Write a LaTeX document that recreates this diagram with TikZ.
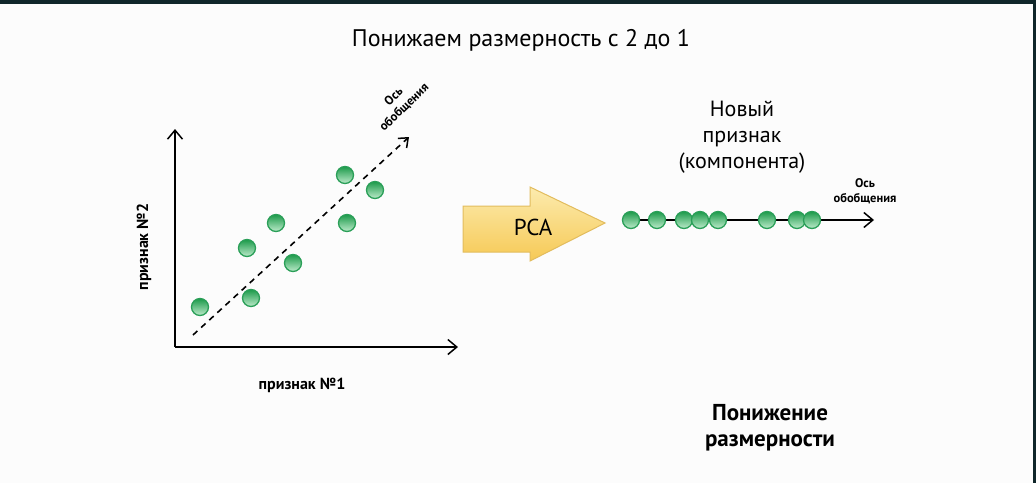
\documentclass[tikz,border=0pt]{standalone}
\usepackage{fontspec}
\setmainfont{PT Sans}
\usetikzlibrary{arrows.meta}
\definecolor{frame}{HTML}{10262A}
\definecolor{ptop}{HTML}{1C9A4A}
\definecolor{pbot}{HTML}{BDEBCB}
\definecolor{pedge}{HTML}{2A9F58}
\definecolor{ytop}{HTML}{FCEBAE}
\definecolor{ybot}{HTML}{F6C955}
\definecolor{yedge}{HTML}{E2BC5E}
\tikzset{
  pt/.style={circle, minimum size=17pt, inner sep=0pt, draw=pedge, line width=1.3pt, top color=ptop, bottom color=pbot},
  axis/.style={line width=1.5pt, -{Straight Barb[length=9pt,width=15pt,line width=1.5pt]}},
  genaxis/.style={line width=1.6pt, dash pattern=on 6pt off 5pt, -{Straight Barb[length=8pt,width=13pt,line width=1.5pt]}},
  smalllbl/.style={font=\fontsize{12.5}{15}\selectfont\bfseries, align=center, inner sep=0pt},
  lbl/.style={font=\fontsize{24}{25}\selectfont, align=center, inner sep=0pt}
}
\begin{document}
\begin{tikzpicture}[x=1pt,y=-1pt]
\useasboundingbox (0,0) rectangle (1036,483);
\fill[white!98!gray] (0,0) rectangle (1036,483);
\fill[frame] (0,0) rectangle (1036,3.5);
\fill[frame] (1032.5,0) rectangle (1036,483);

\node[lbl] (title) at (521,40) {Понижаем размерность с 2 до 1};

% left plot
\coordinate (origin) at (175,347);
\coordinate (ytip) at (175,129);
\coordinate (xtip) at (458,347);
\draw[axis] (origin) -- (ytip);
\draw[axis] (origin) -- (xtip);
\coordinate (gstart) at (193,335);
\coordinate (gend) at (409,137);
\draw[genaxis] (gstart) -- (gend);
\node[smalllbl, rotate=44] (glabel) at (399,102) {Ось\\обобщения};

\node[font=\fontsize{16}{18}\selectfont\bfseries, inner sep=0pt] (xlabel) at (302,385) {признак №1};
\node[font=\fontsize{16}{18}\selectfont\bfseries, inner sep=0pt, rotate=90] (ylabel) at (144,247) {признак №2};

\node[pt] (p1) at (200,307) {};
\node[pt] (p2) at (247,248) {};
\node[pt] (p3) at (276,223) {};
\node[pt] (p4) at (251,298) {};
\node[pt] (p5) at (293,263) {};
\node[pt] (p6) at (345,175) {};
\node[pt] (p7) at (347,223) {};
\node[pt] (p8) at (375,190) {};

% PCA arrow
\shade[top color=ytop, bottom color=ybot, draw=yedge, line width=1pt, line join=miter]
  (463,206) -- (530,206) -- (530,187) -- (605,223) -- (530,261) -- (530,252) -- (463,252) -- cycle;
\node[font=\fontsize{23}{25}\selectfont, inner sep=0pt] (pca) at (533,227) {PCA};

% right side
\node[lbl, font=\fontsize{22}{26}\selectfont] (newfeat) at (742,137) {Новый\\признак\\(компонента)};
\coordinate (lstart) at (623,220);
\coordinate (lend) at (874,220);
\draw[axis] (lstart) -- (lend);
\node[smalllbl] (rlabel) at (865,191) {Ось\\обобщения};
\foreach \x [count=\i] in {631,657,684,700,718,767,797,812} {
  \node[pt] (q\i) at (\x,220) {};
}

\node[lbl, font=\fontsize{23}{26}\selectfont\bfseries] (dimred) at (770,428) {Понижение\\размерности};
\end{tikzpicture}
\end{document}
